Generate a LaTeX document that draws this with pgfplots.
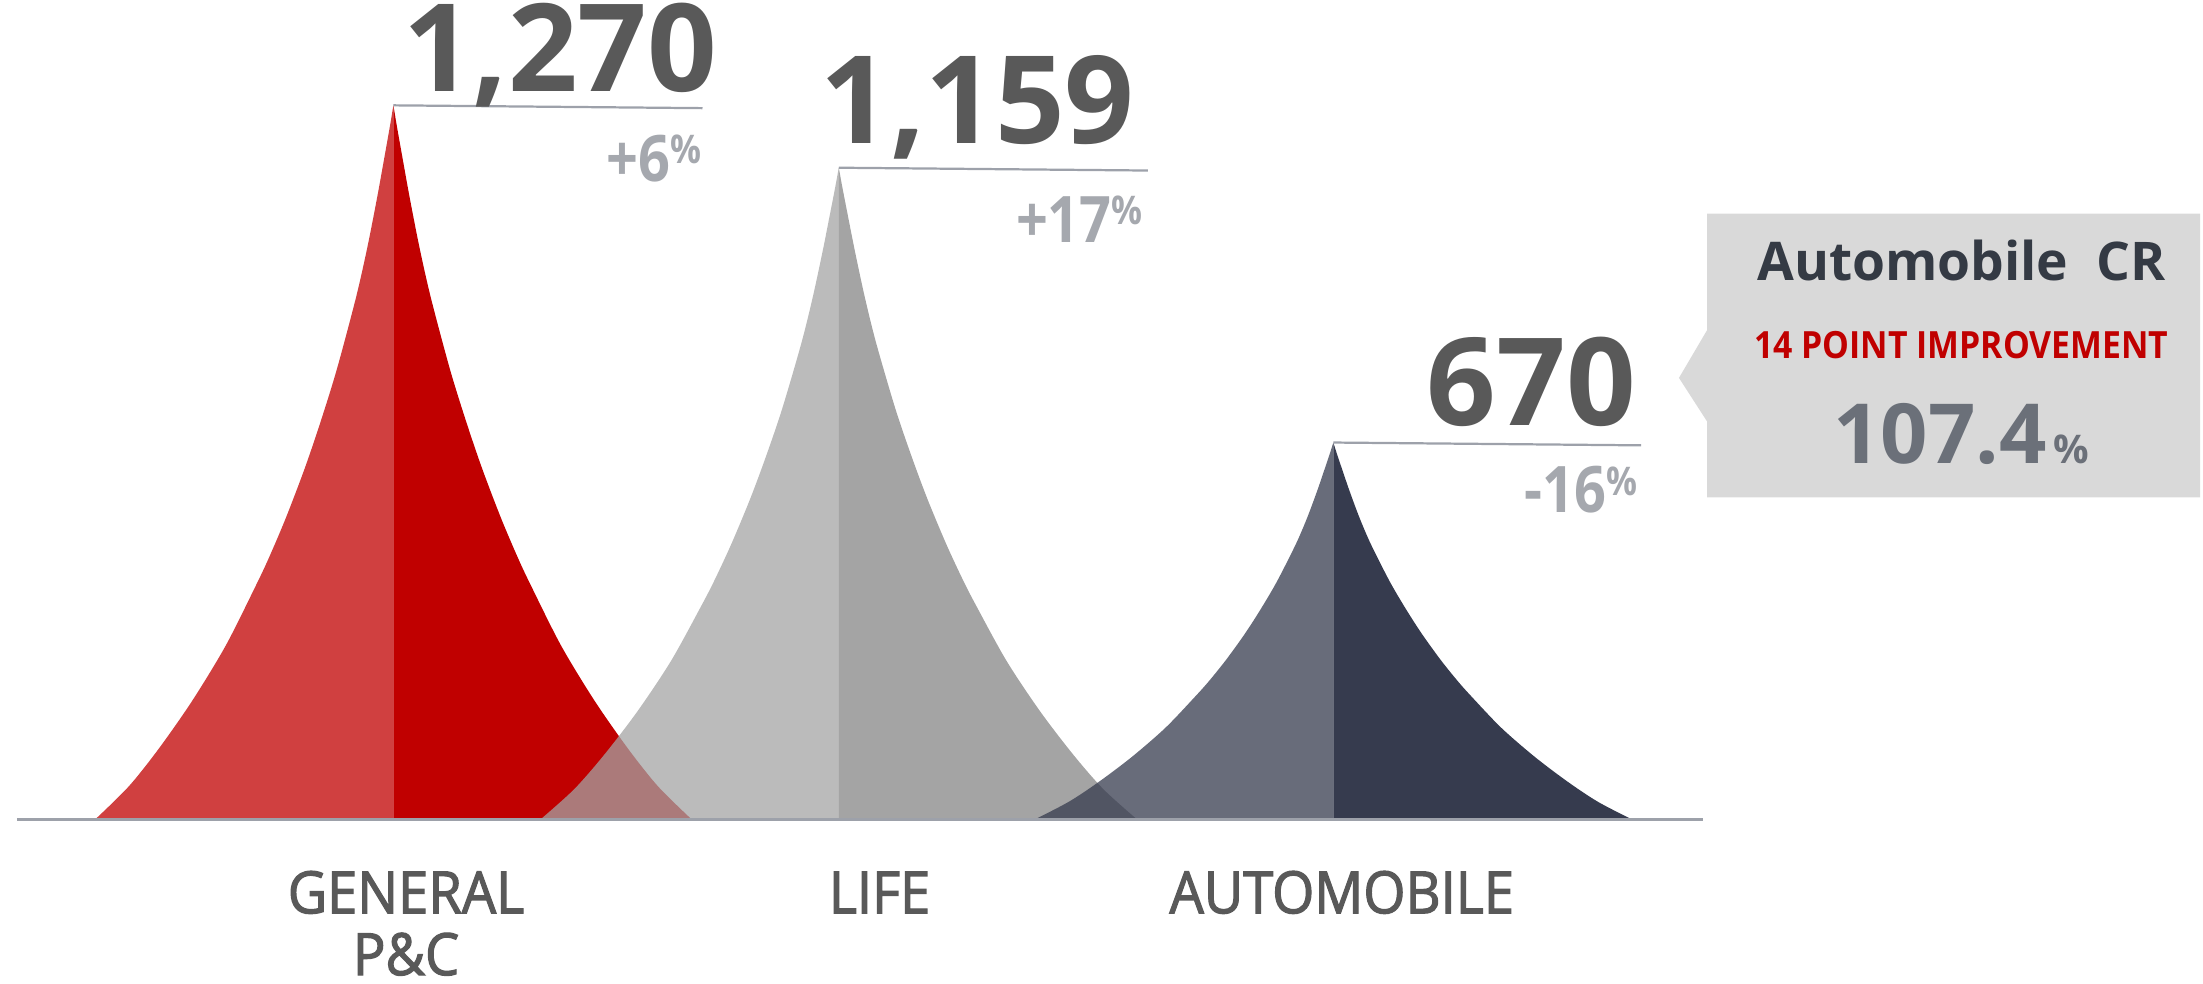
\documentclass[border=0pt]{standalone}
\usepackage{pgfplots}
\pgfplotsset{compat=1.18}
\usepackage{pgfplotstable}
\usepackage{fontspec}
\setmainfont{Open Sans}
\newfontfamily\numfont{Open Sans}
\newfontfamily\pctfont{Open Sans}[FakeStretch=0.87]
\newfontfamily\catfont{Open Sans}[FakeStretch=0.93, FakeBold=2]
\newfontfamily\boxfont{Open Sans}[FakeStretch=0.9]

\definecolor{gpc}{HTML}{C00000}
\definecolor{lif}{HTML}{A4A4A4}
\definecolor{aut}{HTML}{363B4E}
\definecolor{numgray}{HTML}{595959}
\definecolor{pctgray}{HTML}{A5A8AE}
\definecolor{leader}{HTML}{9DA1AA}
\definecolor{boxgray}{HTML}{D9D9D9}
\definecolor{crdark}{HTML}{343A44}
\definecolor{crgray}{HTML}{6B7079}

% normalised half-profile of a peak: u = distance from the centre
% (fraction of the half-width), v = height (fraction of the peak value)
\pgfplotstableread{
u      v
0      1
0.004  0.990
0.012  0.970
0.029  0.930
0.055  0.870
0.088  0.800
0.126  0.730
0.190  0.630
0.245  0.556
0.298  0.491
0.361  0.422
0.418  0.366
0.462  0.327
0.563  0.243
0.675  0.166
0.787  0.099
0.888  0.046
1      0
}\profile

% peak values and positions of the three lines of business
\def\gpcval{1270}\def\gpcx{280}
\def\lifval{1159}\def\lifx{597}
\def\autval{670}\def\autx{949}
\def\halfw{212}

\newcommand{\bignum}{\numfont\bfseries\fontsize{24.7}{26}\selectfont}
\newcommand{\pctnum}{\pctfont\bfseries\fontsize{13}{14}\selectfont}
\newcommand{\supct}{\raisebox{3.5pt}{\fontsize{8}{9}\selectfont\%}}
\newcommand{\catsize}{\catfont\fontsize{11.8}{14}\selectfont}

\begin{document}
\begin{tikzpicture}
\begin{axis}[
  width=15.68cm, height=7cm, scale only axis,
  xmin=0, xmax=1568, ymin=-292.5, ymax=1457.5,
  hide axis, clip=false,
  peak/.style={draw=none, smooth, tension=0.5},
]
\path (axis cs:0,-292.5) rectangle (axis cs:1568,1457.5);

% General P&C
\addplot[peak, fill=gpc, fill opacity=0.75]
  table[x expr={\gpcx-\halfw*\thisrow{u}}, y expr={\gpcval*\thisrow{v}}]{\profile} \closedcycle;
\addplot[peak, fill=gpc]
  table[x expr={\gpcx+\halfw*\thisrow{u}}, y expr={\gpcval*\thisrow{v}}]{\profile} \closedcycle;
% Life
\addplot[peak, fill=lif, fill opacity=0.75]
  table[x expr={\lifx-\halfw*\thisrow{u}}, y expr={\lifval*\thisrow{v}}]{\profile} \closedcycle;
\addplot[peak, fill=lif]
  table[x expr={\lifx+\halfw*\thisrow{u}}, y expr={\lifval*\thisrow{v}}]{\profile} \closedcycle;
% Automobile
\addplot[peak, fill=aut, fill opacity=0.75]
  table[x expr={\autx-\halfw*\thisrow{u}}, y expr={\autval*\thisrow{v}}]{\profile} \closedcycle;
\addplot[peak, fill=aut]
  table[x expr={\autx+\halfw*\thisrow{u}}, y expr={\autval*\thisrow{v}}]{\profile} \closedcycle;

% base line
\addplot[leader, line width=0.6pt] coordinates {(12,0) (1212,0)};

% leader lines from the peaks
\addplot[leader, line width=0.45pt] coordinates {(\gpcx,\gpcval) (500,1265)};
\addplot[leader, line width=0.45pt] coordinates {(\lifx,\lifval) (817,1154)};
\addplot[leader, line width=0.45pt] coordinates {(\autx,\autval) (1168,665)};

% values and growth
\node[anchor=base east, text=numgray, inner sep=0pt] at (axis cs:511,1294) {\bignum 1,270};
\node[anchor=base east, text=pctgray, inner sep=0pt] at (axis cs:500,1135) {\pctnum +6\supct};
\node[anchor=base east, text=numgray, inner sep=0pt] at (axis cs:808,1201.5) {\bignum 1,159};
\node[anchor=base east, text=pctgray, inner sep=0pt] at (axis cs:814,1026.5) {\pctnum +17\supct};
\node[anchor=base east, text=numgray, inner sep=0pt] at (axis cs:1165,700) {\bignum 670};
\node[anchor=base east, text=pctgray, inner sep=0pt] at (axis cs:1166,545) {\pctnum -16\supct};

% category names
\node[anchor=base, text=numgray, inner sep=0pt] at (axis cs:289,-167.5) {\catsize GENERAL};
\node[anchor=base, text=numgray, inner sep=0pt] at (axis cs:289,-277.5) {\catsize P\&C};
\node[anchor=base, text=numgray, inner sep=0pt] at (axis cs:626,-167.5) {\catsize LIFE};
\node[anchor=base, text=numgray, inner sep=0pt] at (axis cs:955,-167.5) {\catsize AUTOMOBILE};

% combined-ratio callout
\fill[boxgray] (axis cs:1215,1077.5) -- (axis cs:1566,1077.5) -- (axis cs:1566,572.5)
  -- (axis cs:1215,572.5) -- (axis cs:1215,707.5) -- (axis cs:1195,785)
  -- (axis cs:1215,870) -- cycle;
\node[anchor=base, text=crdark, inner sep=0pt] at (axis cs:1396,957.5)
  {\numfont\bfseries\fontsize{10.8}{12}\selectfont Automobile\ \ CR};
\node[anchor=base, text=gpc, inner sep=0pt] at (axis cs:1396,820)
  {\boxfont\bfseries\fontsize{7.6}{9}\selectfont 14 POINT IMPROVEMENT};
\node[anchor=base, text=crgray, inner sep=0pt] at (axis cs:1396,632.5)
  {\numfont\bfseries\fontsize{16.8}{18}\selectfont 107.4\hspace{1.5pt}{\fontsize{8}{9}\selectfont\%}};
\end{axis}
\end{tikzpicture}
\end{document}
